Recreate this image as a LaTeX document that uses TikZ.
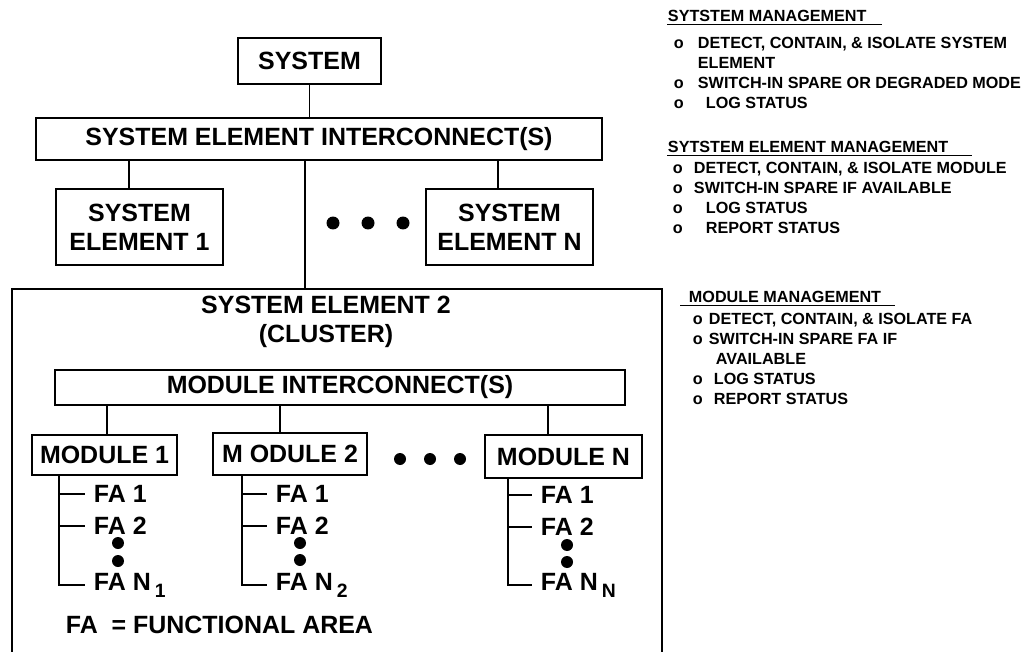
\documentclass[tikz,border=0pt]{standalone}
\usepackage{fontspec}
\setmainfont{Liberation Sans}
\usepackage{tikz}
\usetikzlibrary{positioning}
\newcommand{\bul}[1]{\makebox[#1][l]{o}}

\begin{document}
\begin{tikzpicture}[x=0.02cm,y=-0.02cm,line width=1.1pt,font=\bfseries\fontsize{14.2}{16.5}\selectfont]
\tikzstyle{box}=[draw, align=center, inner sep=0pt]
\tikzstyle{dot}=[circle, fill, inner sep=0pt, minimum size=0.26cm]
\tikzstyle{smalldot}=[circle, fill, inner sep=0pt, minimum size=0.24cm]
\tikzstyle{fa}=[anchor=west, inner sep=0.16cm]
\tikzstyle{head}=[anchor=west, inner sep=0pt, font=\bfseries\fontsize{9.2}{11.4}\selectfont]
\tikzstyle{note}=[anchor=north west, align=left, inner sep=0pt, font=\bfseries\fontsize{9.2}{11.4}\selectfont]
\useasboundingbox (0,0) rectangle (1028,652);
\clip (0,0) rectangle (1028,652);
% system level
\node[box, minimum width=2.86cm, minimum height=0.92cm] (sys) at (309.5,61) {SYSTEM};
\node[box, minimum width=11.32cm, minimum height=0.84cm] (sei) at (319,139) {SYSTEM ELEMENT INTERCONNECT(S)};
\node[box, minimum width=3.34cm, minimum height=1.52cm] (se1) at (139.5,227) {SYSTEM\\ELEMENT 1};
\node[box, minimum width=3.34cm, minimum height=1.52cm] (sen) at (509.5,227) {SYSTEM\\ELEMENT N};
\node[dot] (d1) at (333,223) {};
\node[dot] (d2) at (368,223) {};
\node[dot] (d3) at (403,223) {};
% cluster
\node[draw, minimum width=13cm, minimum height=8cm, anchor=north] (cl) at (337,288) {};
\node[align=center] (cltitle) at (326,322) {SYSTEM ELEMENT 2\\(CLUSTER)};
\node[box, minimum width=11.4cm, minimum height=0.7cm] (mic) at (340,387.5) {MODULE INTERCONNECT(S)};
\node[box, minimum width=2.9cm, minimum height=0.8cm] (m1) at (104.5,455) {MODULE 1};
\node[box, minimum width=3.08cm, minimum height=0.84cm] (m2) at (290,454) {M ODULE 2};
\node[box, minimum width=3.14cm, minimum height=0.86cm] (mn) at (563.5,456.5) {MODULE N};
\node[smalldot] (md1) at (400,459) {};
\node[smalldot] (md2) at (430,459) {};
\node[smalldot] (md3) at (460,459) {};
% functional areas
\node[fa] (fa11) at (85,494) {FA 1};
\node[fa] (fa12) at (85,526) {FA 2};
\node[fa] (fa1n) at (85,585) {FA N\,\raisebox{-4pt}{\fontsize{11}{11}\selectfont 1}};
\node[smalldot] (v11) at (118,543) {};
\node[smalldot] (v12) at (118,561) {};
\node[fa] (fa21) at (267,494) {FA 1};
\node[fa] (fa22) at (267,526) {FA 2};
\node[fa] (fa2n) at (267,585) {FA N\,\raisebox{-4pt}{\fontsize{11}{11}\selectfont 2}};
\node[smalldot] (v21) at (300,543) {};
\node[smalldot] (v22) at (300,560) {};
\node[fa] (fan1) at (532,495) {FA 1};
\node[fa] (fan2) at (532,527) {FA 2};
\node[fa] (fann) at (532,585) {FA N\,\raisebox{-4pt}{\fontsize{11}{11}\selectfont N}};
\node[smalldot] (vn1) at (567,545) {};
\node[smalldot] (vn2) at (567,562) {};
\node[anchor=west, inner sep=0pt] (legend) at (65,625) {FA~ = FUNCTIONAL AREA};
% tap points
\coordinate (tA) at (129,0);
\coordinate (tB) at (305,0);
\coordinate (tC) at (498,0);
\coordinate (tm1) at (107,0);
\coordinate (tm2) at (280,0);
\coordinate (tmn) at (548,0);
\coordinate (tr1) at (59,0);
\coordinate (tr2) at (242,0);
\coordinate (trn) at (508,0);
% connectors
\draw (sys.south) -- (sys.south |- sei.north);
\draw (sei.south -| tA) -- (se1.north -| tA);
\draw (sei.south -| tB) -- (cl.north -| tB);
\draw (sei.south -| tC) -- (sen.north -| tC);
\draw (mic.south -| tm1) -- (m1.north -| tm1);
\draw (mic.south -| tm2) -- (m2.north -| tm2);
\draw (mic.south -| tmn) -- (mn.north -| tmn);
\draw (m1.south -| tr1) |- (fa11.west);
\draw (m1.south -| tr1) |- (fa12.west);
\draw (m1.south -| tr1) |- (fa1n.west);
\draw (m2.south -| tr2) |- (fa21.west);
\draw (m2.south -| tr2) |- (fa22.west);
\draw (m2.south -| tr2) |- (fa2n.west);
\draw (mn.south -| trn) |- (fan1.west);
\draw (mn.south -| trn) |- (fan2.west);
\draw (mn.south -| trn) |- (fann.west);
% management notes
\node[head] (smt) at (667,16) {SYTSTEM MANAGEMENT};
\draw[line width=0.8pt] ([yshift=-0.04cm]smt.south west) -- ++(4.3cm,0);
\node[note] (smn) at (673,36) {\bul{0.48cm}DETECT, CONTAIN, \& ISOLATE SYSTEM\\
\hspace*{0.48cm}ELEMENT\\
\bul{0.48cm}SWITCH-IN SPARE OR DEGRADED MODE\\
\bul{0.48cm}\hspace*{0.16cm}LOG STATUS};
\node[head] (semt) at (667,147) {SYTSTEM ELEMENT MANAGEMENT};
\draw[line width=0.8pt] ([yshift=-0.04cm]semt.south west) -- ++(6.1cm,0);
\node[note] (semn) at (672,161) {\bul{0.42cm}DETECT, CONTAIN, \& ISOLATE MODULE\\
\bul{0.42cm}SWITCH-IN SPARE IF AVAILABLE\\
\bul{0.42cm}\hspace*{0.24cm}LOG STATUS\\
\bul{0.42cm}\hspace*{0.24cm}REPORT STATUS};
\node[head] (mmt) at (688,297) {MODULE MANAGEMENT};
\draw[line width=0.8pt] ([xshift=-0.16cm,yshift=-0.04cm]mmt.south west) -- ++(4.3cm,0);
\node[note] (mmn) at (692,312) {\bul{0.32cm}DETECT, CONTAIN, \& ISOLATE FA\\
\bul{0.32cm}SWITCH-IN SPARE FA IF\\
\hspace*{0.46cm}AVAILABLE\\
\bul{0.32cm}\hspace*{0.1cm}LOG STATUS\\
\bul{0.32cm}\hspace*{0.1cm}REPORT STATUS};
\end{tikzpicture}
\end{document}
